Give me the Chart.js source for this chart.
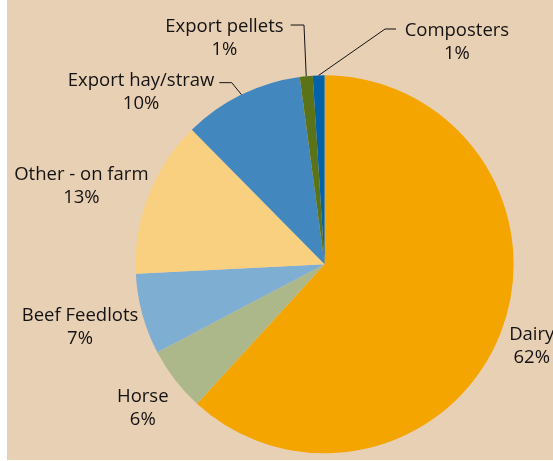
<!DOCTYPE html>
<html><head><meta charset="utf-8">
<script src="https://cdn.jsdelivr.net/npm/chart.js@4"></script>
<style>
html,body{margin:0;padding:0;background:#fff;}
#bg{position:absolute;left:7px;top:0;width:546px;height:460px;background:#E8D0B4;}
#wrap{position:absolute;left:0;top:0;width:553px;height:461px;}
</style></head><body>
<div id="bg"></div>
<div id="wrap"><canvas id="c" width="553" height="461"></canvas></div>
<script>
const categories = ['Dairy','Horse','Beef Feedlots','Other - on farm','Export hay/straw','Export pellets','Composters'];
const shares = [61.8, 5.5, 6.9, 13.4, 10.3, 1.1, 1.0];
const sliceColors = ['#F5A500','#ADB88A','#7FAED3','#F9D080','#4288BF','#5B7318','#0263A9'];
// label placement: centre of the two-line label, offset from pie centre in radius units
const labelOffsets = [[1.096,0.432],[-0.962,0.762],[-1.294,0.334],[-1.287,-0.414],[-0.971,-0.912],[-0.530,-1.197],[0.700,-1.176]];
// leader lines: [start, elbow] in radius units; end is the slice's rim midpoint
const leaderPts = [null,null,null,null,[[-0.557,-0.961],[-0.4915,-0.961]],[[-0.180,-1.266],[-0.109,-1.266]],[[0.378,-1.245],[0.320,-1.245]]];

const FONT = '18.5px "Open Sans"';
const TEXT = '#141213';

const labelPlugin = {
  id: 'pieLabels',
  afterDatasetsDraw(chart) {
    const ctx = chart.ctx;
    const meta = chart.getDatasetMeta(0);
    const total = shares.reduce((a, b) => a + b, 0);
    ctx.save();
    ctx.font = FONT;
    ctx.fillStyle = TEXT;
    ctx.strokeStyle = TEXT;
    ctx.lineWidth = 1;
    ctx.textAlign = 'center';
    ctx.textBaseline = 'middle';
    meta.data.forEach((arc, i) => {
      const p = arc.getProps(['x','y','startAngle','endAngle','outerRadius'], true);
      const r = p.outerRadius;
      const lx = p.x + labelOffsets[i][0] * r;
      const ly = p.y + labelOffsets[i][1] * r;
      ctx.fillText(categories[i], lx, ly - 11.5);
      ctx.fillText(Math.round(shares[i] / total * 100) + '%', lx, ly + 11.5);
      if (leaderPts[i]) {
        const mid = (p.startAngle + p.endAngle) / 2;
        const ex = p.x + Math.cos(mid) * r;
        const ey = p.y + Math.sin(mid) * r;
        ctx.beginPath();
        ctx.moveTo(p.x + leaderPts[i][0][0] * r, p.y + leaderPts[i][0][1] * r);
        ctx.lineTo(p.x + leaderPts[i][1][0] * r, p.y + leaderPts[i][1][1] * r);
        ctx.lineTo(ex, ey);
        ctx.stroke();
      }
    });
    ctx.restore();
  }
};

new Chart(document.getElementById('c'), {
  type: 'pie',
  data: {
    labels: categories,
    datasets: [{ data: shares, backgroundColor: sliceColors, borderWidth: 0 }]
  },
  options: {
    responsive: false,
    animation: false,
    layout: { padding: { left: 135.6, right: 39.4, top: 75.3, bottom: 7.7 } },
    plugins: { legend: { display: false }, tooltip: { enabled: false } }
  },
  plugins: [labelPlugin]
});
</script>
</body></html>
